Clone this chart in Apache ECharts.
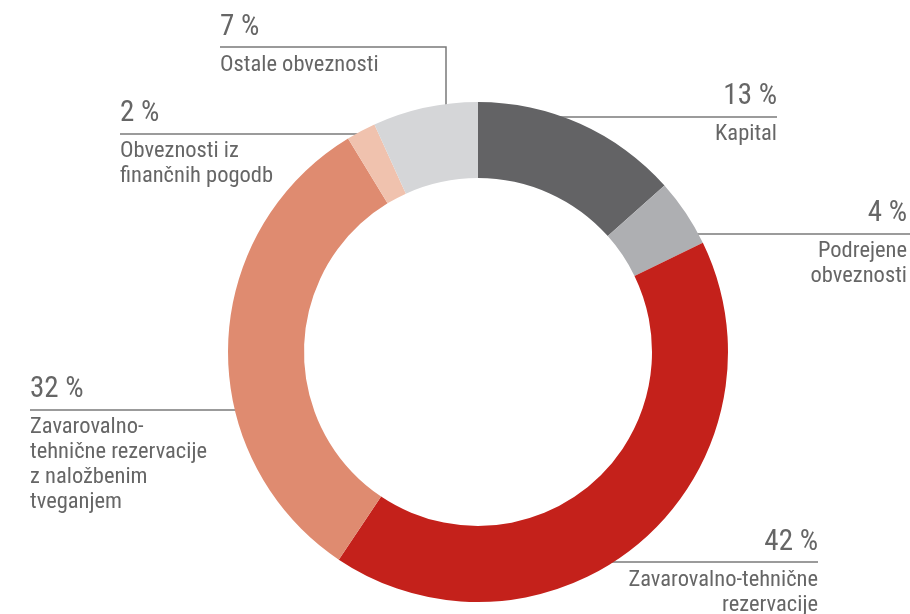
<!DOCTYPE html>
<html>
<head>
<meta charset="utf-8">
<script src="https://cdn.jsdelivr.net/npm/echarts@6/dist/echarts.min.js"></script>
<style>
    html, body { margin: 0; padding: 0; background: #fff; }
    #chart { width: 910px; height: 614px; }
</style>
</head>
<body>
<div id="chart"></div>
<script>
// kategorije (vrstni red v smeri urinega kazalca od vrha)
var categories = [
    'Kapital',
    'Podrejene\nobveznosti',
    'Zavarovalno-tehnične\nrezervacije',
    'Zavarovalno-\ntehnične rezervacije\nz naložbenim\ntveganjem',
    'Obveznosti iz\nfinančnih pogodb',
    'Ostale obveznosti'
];
// delež v %
var values = [13.4, 4.4, 41.6, 31.9, 1.9, 6.8];

var colors = ['#636365', '#aeafb2', '#c4211b', '#df8b70', '#f0c2ae', '#d5d6d8'];

// postavitev oznak: x, zgornji rob besedila, poravnava, točke črte
var labelPos = [
    { x: 777, y: 72, align: 'right', line: [[560, 117], [700, 117], [777, 117]] },
    { x: 907, y: 189, align: 'right', line: [[689, 234], [800, 234], [910, 234]] },
    { x: 818, y: 518, align: 'right', line: [[600, 562], [700, 562], [818, 562]] },
    { x: 30, y: 365, align: 'left', line: [[251, 410], [150, 410], [30, 410]] },
    { x: 120, y: 89, align: 'left', line: [[370, 134], [250, 134], [120, 134]] },
    { x: 220, y: 3, align: 'left', line: [[446, 122], [446, 47], [220, 47]] }
];

var FONT = "'Liberation Sans Narrow', 'Roboto Condensed', 'DejaVu Sans Condensed', sans-serif";

var myChart = echarts.init(document.getElementById('chart'));

var data = [];
for (var i = 0; i < categories.length; i++) {
    data.push({ name: categories[i], value: values[i], itemStyle: { color: colors[i] } });
}

myChart.setOption({
    animation: false,
    series: [{
        type: 'pie',
        center: [478, 352],
        radius: [174, 250],
        startAngle: 90,
        clockwise: true,
        silent: true,
        data: data,
        label: {
            show: true,
            position: 'outside',
            overflow: 'none',
            color: '#666',
            fontFamily: FONT,
            formatter: function(p) {
                var lines = p.name.split('\n');
                var s = '{p|' + Math.round(p.value) + ' %}';
                for (var k = 0; k < lines.length; k++) {
                    s += '\n{n|' + lines[k] + '}';
                }
                return s;
            },
            rich: {
                p: { fontSize: 29, lineHeight: 50, color: '#666', fontFamily: FONT },
                n: { fontSize: 22.5, lineHeight: 25, color: '#666', fontFamily: FONT }
            }
        },
        labelLine: {
            show: true,
            smooth: false,
            lineStyle: { color: '#7a7a7a', width: 1.5 }
        },
        labelLayout: function(params) {
            var lp = labelPos[params.dataIndex];
            return {
                x: lp.x,
                y: lp.y,
                align: lp.align,
                verticalAlign: 'top',
                labelLinePoints: lp.line
            };
        }
    }]
});
</script>
</body>
</html>
